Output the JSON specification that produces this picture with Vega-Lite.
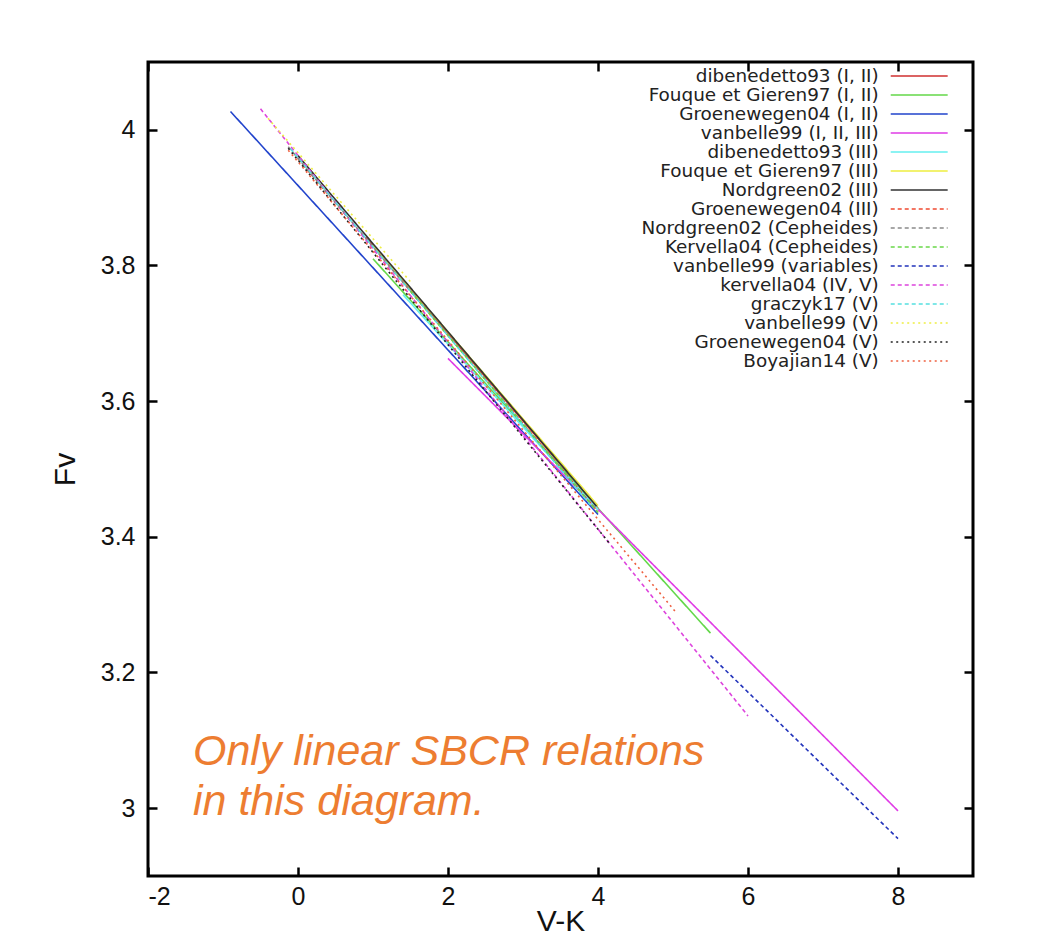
{
  "$schema": "https://vega.github.io/schema/vega-lite/v6.json",
  "width": 825,
  "height": 814,
  "autosize": {"type": "none"},
  "padding": {"left": 148, "top": 62, "right": 75, "bottom": 62},
  "background": "white",
  "config": {
    "view": {"stroke": "#000000", "strokeWidth": 3},
    "font": "Liberation Sans",
    "axis": {
      "grid": false,
      "domain": false,
      "tickColor": "#000000",
      "tickWidth": 2.5,
      "tickSize": -9,
      "labelFont": "Liberation Sans",
      "labelFontSize": 25,
      "labelColor": "#111111",
      "titleFont": "Liberation Sans",
      "titleFontWeight": "normal",
      "titleFontSize": 30,
      "titleColor": "#111111"
    },
    "legend": {
      "orient": "none",
      "legendX": 762,
      "legendY": 4.8,
      "padding": 0,
      "symbolType": "M-3.56,0H3.56",
      "symbolSize": 256,
      "symbolStrokeWidth": 1.6,
      "labelFont": "DejaVu Sans",
      "labelFontSize": 18.4,
      "labelColor": "#222222",
      "labelAlign": "right",
      "labelOffset": -49.7,
      "labelLimit": 0,
      "rowPadding": 0
    }
  },
  "datasets": {
    "rel": [
      {"s": "dibenedetto93 (I, II)", "vk": 0.9, "fv": 3.842},
      {"s": "dibenedetto93 (I, II)", "vk": 4.0, "fv": 3.442},
      {"s": "Fouque et Gieren97 (I, II)", "vk": 1.0, "fv": 3.81},
      {"s": "Fouque et Gieren97 (I, II)", "vk": 5.5, "fv": 3.258},
      {"s": "Groenewegen04 (I, II)", "vk": -0.9, "fv": 4.027},
      {"s": "Groenewegen04 (I, II)", "vk": 4.0, "fv": 3.433},
      {"s": "vanbelle99 (I, II, III)", "vk": 2.0, "fv": 3.663},
      {"s": "vanbelle99 (I, II, III)", "vk": 8.0, "fv": 2.996},
      {"s": "dibenedetto93 (III)", "vk": 1.4, "fv": 3.757},
      {"s": "dibenedetto93 (III)", "vk": 4.0, "fv": 3.44},
      {"s": "Fouque et Gieren97 (III)", "vk": 1.0, "fv": 3.83},
      {"s": "Fouque et Gieren97 (III)", "vk": 4.0, "fv": 3.446},
      {"s": "Nordgreen02 (III)", "vk": 0.0, "fv": 3.962},
      {"s": "Nordgreen02 (III)", "vk": 3.98, "fv": 3.445},
      {"s": "Groenewegen04 (III)", "vk": 0.0, "fv": 3.957},
      {"s": "Groenewegen04 (III)", "vk": 4.0, "fv": 3.437},
      {"s": "Nordgreen02 (Cepheides)", "vk": -0.13, "fv": 3.975},
      {"s": "Nordgreen02 (Cepheides)", "vk": 4.0, "fv": 3.436},
      {"s": "Kervella04 (Cepheides)", "vk": 1.5, "fv": 3.762},
      {"s": "Kervella04 (Cepheides)", "vk": 4.0, "fv": 3.436},
      {"s": "vanbelle99 (variables)", "vk": 5.5, "fv": 3.225},
      {"s": "vanbelle99 (variables)", "vk": 8.0, "fv": 2.955},
      {"s": "kervella04 (IV, V)", "vk": -0.5, "fv": 4.031},
      {"s": "kervella04 (IV, V)", "vk": 6.0, "fv": 3.136},
      {"s": "graczyk17 (V)", "vk": -0.1, "fv": 3.972},
      {"s": "graczyk17 (V)", "vk": 3.9, "fv": 3.447},
      {"s": "vanbelle99 (V)", "vk": -0.4, "fv": 4.017},
      {"s": "vanbelle99 (V)", "vk": 1.5, "fv": 3.776},
      {"s": "Groenewegen04 (V)", "vk": -0.13, "fv": 3.973},
      {"s": "Groenewegen04 (V)", "vk": 4.17, "fv": 3.388},
      {"s": "Boyajian14 (V)", "vk": -0.13, "fv": 3.97},
      {"s": "Boyajian14 (V)", "vk": 5.03, "fv": 3.29}
    ]
  },
  "layer": [
    {
      "data": {"name": "rel"},
      "mark": {"type": "line", "strokeWidth": 1.6},
      "encoding": {
        "x": {
          "field": "vk",
          "type": "quantitative",
          "scale": {"domain": [-2, 9], "nice": false, "zero": false},
          "axis": {
            "orient": "bottom",
            "values": [-2, 0, 2, 4, 6, 8],
            "labelExpr": "'' + datum.value",
            "labelPadding": 17,
            "title": "V-K",
            "titlePadding": -3
          }
        },
        "y": {
          "field": "fv",
          "type": "quantitative",
          "scale": {"domain": [2.9, 4.1], "nice": false, "zero": false},
          "axis": {
            "orient": "left",
            "values": [3, 3.2, 3.4, 3.6, 3.8, 4],
            "labelExpr": "'' + datum.value",
            "labelPadding": 22,
            "title": "Fv",
            "titlePadding": 20
          }
        },
        "color": {
          "field": "s",
          "type": "nominal",
          "scale": {
            "domain": ["dibenedetto93 (I, II)", "Fouque et Gieren97 (I, II)", "Groenewegen04 (I, II)", "vanbelle99 (I, II, III)", "dibenedetto93 (III)", "Fouque et Gieren97 (III)", "Nordgreen02 (III)", "Groenewegen04 (III)", "Nordgreen02 (Cepheides)", "Kervella04 (Cepheides)", "vanbelle99 (variables)", "kervella04 (IV, V)", "graczyk17 (V)", "vanbelle99 (V)", "Groenewegen04 (V)", "Boyajian14 (V)"],
            "range": ["#d03030", "#64d84a", "#2244cc", "#e03ce6", "#66f0f0", "#eeee40", "#333333", "#f04a30", "#8a8a8a", "#6ad84a", "#2233bb", "#dd44dd", "#55e0e0", "#eeee44", "#222222", "#ee6040"]
          },
          "legend": {"title": null}
        },
        "strokeDash": {
          "field": "s",
          "type": "nominal",
          "scale": {
            "domain": ["dibenedetto93 (I, II)", "Fouque et Gieren97 (I, II)", "Groenewegen04 (I, II)", "vanbelle99 (I, II, III)", "dibenedetto93 (III)", "Fouque et Gieren97 (III)", "Nordgreen02 (III)", "Groenewegen04 (III)", "Nordgreen02 (Cepheides)", "Kervella04 (Cepheides)", "vanbelle99 (variables)", "kervella04 (IV, V)", "graczyk17 (V)", "vanbelle99 (V)", "Groenewegen04 (V)", "Boyajian14 (V)"],
            "range": [[1, 0], [1, 0], [1, 0], [1, 0], [1, 0], [1, 0], [1, 0], [4, 3], [4, 3], [4, 3], [4, 3], [4, 3], [4, 3], [2, 3.5], [2, 3.5], [2, 3.5]]
          },
          "legend": {"title": null}
        }
      }
    },
    {
      "data": {"values": [{"note": "annotation"}]},
      "mark": {
        "type": "text",
        "text": ["Only linear SBCR relations", "in this diagram."],
        "align": "left",
        "baseline": "alphabetic",
        "font": "Liberation Sans",
        "fontStyle": "italic",
        "fontSize": 43,
        "lineHeight": 50,
        "color": "#ED7D31"
      },
      "encoding": {
        "x": {
          "datum": -1.4,
          "type": "quantitative",
          "axis": {"orient": "top", "labels": false, "title": null, "values": [-2, 0, 2, 4, 6, 8]}
        },
        "y": {
          "datum": 3.0634,
          "type": "quantitative",
          "axis": {"orient": "right", "labels": false, "title": null, "values": [3, 3.2, 3.4, 3.6, 3.8, 4]}
        }
      }
    }
  ],
  "resolve": {"axis": {"x": "independent", "y": "independent"}}
}
